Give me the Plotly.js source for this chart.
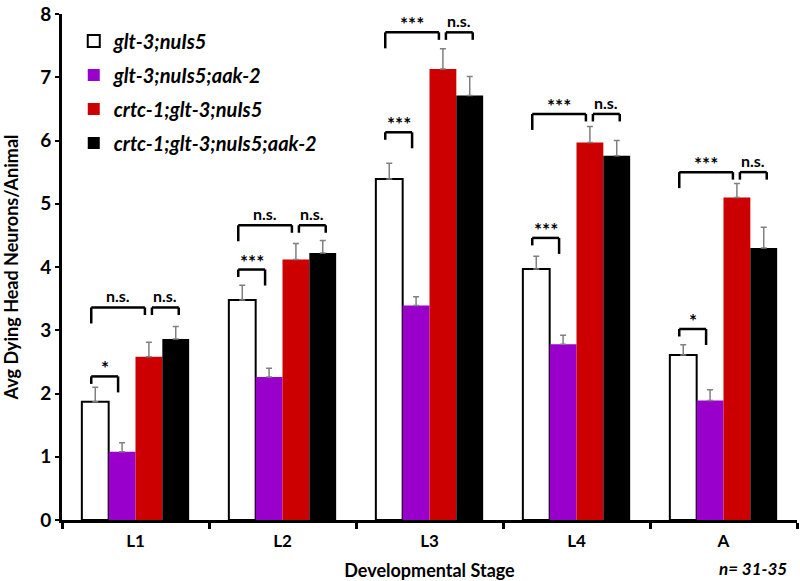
<!DOCTYPE html>
<html><head><meta charset="utf-8">
<script src="https://cdn.plot.ly/plotly-3.0.1.min.js"></script>
<style>body{margin:0;background:#fff}</style>
</head><body><div id="chart" style="width:800px;height:581px"></div>
<script>
// ---- data ----
var stages = ['L1', 'L2', 'L3', 'L4', 'A'];
var seriesNames = ['glt-3;nuIs5', 'glt-3;nuIs5;aak-2', 'crtc-1;glt-3;nuIs5', 'crtc-1;glt-3;nuIs5;aak-2'];
var gltNuIs5 = [1.87, 3.48, 5.39, 3.97, 2.61];
var gltNuIs5Err = [0.23, 0.23, 0.25, 0.20, 0.16];
var gltNuIs5Aak2 = [1.08, 2.26, 3.39, 2.78, 1.89];
var gltNuIs5Aak2Err = [0.14, 0.14, 0.14, 0.14, 0.17];
var crtcGltNuIs5 = [2.58, 4.12, 7.13, 5.97, 5.10];
var crtcGltNuIs5Err = [0.23, 0.25, 0.32, 0.25, 0.22];
var crtcGltNuIs5Aak2 = [2.86, 4.22, 6.71, 5.76, 4.30];
var crtcGltNuIs5Aak2Err = [0.20, 0.20, 0.30, 0.24, 0.33];
// significance comparisons
var sigStage = ['L1', 'L1', 'L1', 'L2', 'L2', 'L2', 'L3', 'L3', 'L3', 'L4', 'L4', 'L4', 'A', 'A', 'A'];
var sigFrom = [0, 0, 2, 0, 0, 2, 0, 0, 2, 0, 0, 2, 0, 0, 2];
var sigTo = [1, 2, 3, 1, 2, 3, 1, 2, 3, 1, 2, 3, 1, 2, 3];
var sigLabel = ['*', 'n.s.', 'n.s.', '***', 'n.s.', 'n.s.', '***', '***', 'n.s.', '***', '***', 'n.s.', '*', '***', 'n.s.'];
var sigLevel = [2.27, 3.36, 3.36, 3.96, 4.66, 4.66, 6.13, 7.71, 7.71, 4.46, 6.42, 6.42, 3.02, 5.50, 5.50];
var sampleNote = 'n= 31-35';

// ---- styles ----
var colors = ['#ffffff', '#9900cc', '#cc0000', '#000000'];
var FONT = 'Lato, "Open Sans", sans-serif';
var BARGAP = 0.27;
var PX_PER_CAT = 735 / 5;
var PX_PER_UNIT = 506 / 8;
var values = [gltNuIs5, gltNuIs5Aak2, crtcGltNuIs5, crtcGltNuIs5Aak2];
var errs = [gltNuIs5Err, gltNuIs5Aak2Err, crtcGltNuIs5Err, crtcGltNuIs5Aak2Err];

function build(extra) {
  var traces = seriesNames.map(function (n, k) {
    return {
      type: 'bar', name: n, x: stages, y: values[k],
      legendgroup: 'g' + k,
      marker: { color: colors[k], line: { color: '#000', width: k === 0 ? 2 : 0 } },
      error_y: {
        type: 'data', symmetric: false, array: errs[k],
        arrayminus: errs[k].map(function () { return 0; }),
        visible: true, color: '#808080', thickness: 1.5, width: 3
      }
    };
  });
  function barCenter(stageIdx, series) {
    var w = (1 - BARGAP) / 4;
    return stageIdx - (1 - BARGAP) / 2 + (series + 0.5) * w;
  }
  var shapes = [], annotations = [];
  var LONG = 16 / PX_PER_UNIT, SHORT = 7.5 / PX_PER_UNIT;
  for (var i = 0; i < sigStage.length; i++) {
    var si = stages.indexOf(sigStage[i]);
    var a = sigFrom[i], b = sigTo[i];
    var xl = barCenter(si, a) + (a === 2 ? 3 : -4) / PX_PER_CAT;
    var xr = barCenter(si, b) + (b === 3 ? 3 : -4) / PX_PER_CAT;
    var top = sigLevel[i];
    var legL = (a === 0 && b === 2) ? LONG : SHORT;
    var legR = (a === 0 && b === 1) ? LONG : SHORT;
    shapes.push({ type: 'line', xref: 'x', yref: 'y', x0: xl, x1: xr, y0: top, y1: top, line: { color: '#000', width: 2.5 } });
    shapes.push({ type: 'line', xref: 'x', yref: 'y', x0: xl, x1: xl, y0: top, y1: top - legL, line: { color: '#000', width: 2.5 } });
    shapes.push({ type: 'line', xref: 'x', yref: 'y', x0: xr, x1: xr, y0: top, y1: top - legR, line: { color: '#000', width: 2.5 } });
    var ns = sigLabel[i] === 'n.s.';
    annotations.push({
      xref: 'x', yref: 'y', x: (xl + xr) / 2, y: top, text: sigLabel[i], showarrow: false,
      yanchor: 'bottom', yshift: ns ? 0 : -5,
      font: { family: FONT, size: ns ? 16 : 19, weight: 'bold', color: '#000' }
    });
  }
  annotations.push({
    xref: 'paper', yref: 'paper', x: (753 - 62) / 735, y: -(568 - 520) / 506,
    xanchor: 'center', yanchor: 'middle', text: sampleNote, showarrow: false,
    font: { family: FONT, size: 17, weight: 'bold', style: 'italic', color: '#000' }
  });
  var layout = {
    width: 800, height: 581,
    margin: { l: 62, r: 3, t: 14, b: 61 },
    paper_bgcolor: '#fff', plot_bgcolor: '#fff',
    barmode: 'group', bargap: BARGAP, bargroupgap: 0,
    showlegend: true,
    legend: {
      x: 0.016, y: 0.985, xanchor: 'left', yanchor: 'top',
      bgcolor: 'rgba(0,0,0,0)', traceorder: 'grouped', tracegroupgap: 5,
      font: { family: FONT, size: 20, weight: 'bold', style: 'italic', color: '#000' }
    },
    xaxis: {
      type: 'category', range: [-0.5, 4.5],
      showline: true, linecolor: '#000', linewidth: 3,
      ticks: 'outside', tickson: 'boundaries', ticklen: 6, tickwidth: 3, tickcolor: '#000',
      tickfont: { family: FONT, size: 17, weight: 'bold', color: '#000' },
      showgrid: false, zeroline: false,
      title: { text: 'Developmental Stage', font: { family: FONT, size: 18, weight: 'bold', color: '#000' } }
    },
    yaxis: {
      range: [0, 8], dtick: 1, tick0: 0,
      showline: true, linecolor: '#000', linewidth: 3,
      ticks: 'outside', ticklen: 4, tickwidth: 2, tickcolor: '#000',
      tickfont: { family: FONT, size: 19, weight: 'bold', color: '#000' },
      showgrid: false, zeroline: false,
      title: { text: 'Avg Dying Head Neurons/Animal', font: { family: FONT, size: 18, weight: 'bold', color: '#000' } }
    },
    shapes: shapes,
    annotations: annotations
  };
  if (extra) { layout.xaxis.ticklabelstandoff = 4; }
  return { t: traces, l: layout };
}

function draw(extra) {
  var b = build(extra);
  var gd = document.getElementById('chart');
  try { Plotly.purge(gd); } catch (e) {}
  var fail = function () { if (extra) draw(false); };
  try { Plotly.newPlot(gd, b.t, b.l, { displayModeBar: false, staticPlot: true }).then(null, fail); }
  catch (e) { fail(); }
}
draw(true);
</script></body></html>
